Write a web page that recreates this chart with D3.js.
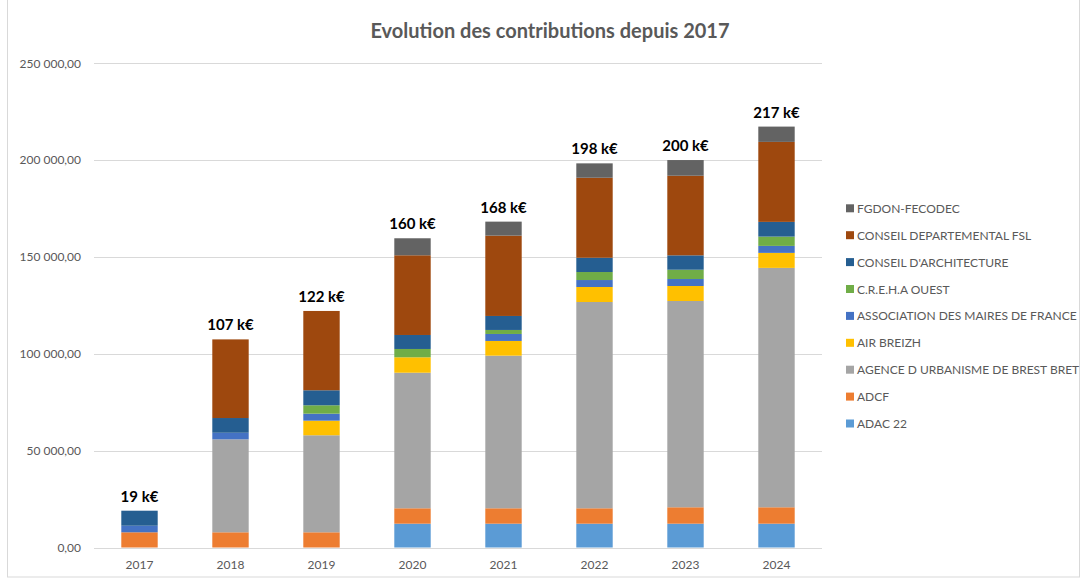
<!DOCTYPE html>
<html><head><meta charset="utf-8">
<script src="https://cdn.jsdelivr.net/npm/d3@7"></script>
<style>html,body{margin:0;padding:0;background:#fff;}svg{display:block;font-family:Lato,"Open Sans",sans-serif;}</style>
</head><body>
<svg id="c" width="1084" height="581"></svg>
<script>
const years = ["2017","2018","2019","2020","2021","2022","2023","2024"];
const seriesNames = ["ADAC 22","ADCF","AGENCE D URBANISME DE BREST BRET","AIR BREIZH","ASSOCIATION DES MAIRES DE FRANCE","C.R.E.H.A OUEST","CONSEIL D'ARCHITECTURE","CONSEIL DEPARTEMENTAL FSL","FGDON-FECODEC"];
const seriesColors = ["#5B9BD5","#ED7D31","#A5A5A5","#FFC000","#4472C4","#70AD47","#255E91","#9E480E","#636363"];
const adac22      = [0,0,0,12300,12300,12300,12300,12300];
const adcf        = [7850,7850,7850,7950,7950,7950,8470,8470];
const agence      = [0,48000,50100,70000,78800,106500,106500,123600];
const airBreizh   = [0,0,7540,7950,7600,7750,7750,7750];
const association = [3400,3400,3600,0,3600,3600,3600,3600];
const creha       = [0,0,4340,4300,2070,4130,4800,4800];
const conseilArch = [7750,7600,7750,7230,7230,7380,7430,7600];
const conseilDep  = [0,40600,40950,41150,41470,41300,41100,41300];
const fgdon       = [0,0,0,8780,7230,7430,8100,7900];
const yTicks = [0,50000,100000,150000,200000,250000];
const title = "Evolution des contributions depuis 2017";

const seriesValues = [adac22,adcf,agence,airBreizh,association,creha,conseilArch,conseilDep,fgdon];
const rows = years.map((y,i)=>{const r={year:y}; seriesNames.forEach((n,k)=>r[n]=seriesValues[k][i]); return r;});
const stack = d3.stack().keys(seriesNames)(rows);

const svg = d3.select("#c");
svg.append("rect").attr("x",7.5).attr("y",-1).attr("width",1072).attr("height",578).attr("fill","#fff").attr("stroke","#d9d9d9");

const x = d3.scaleBand().domain(years).range([94,822]).paddingInner(0.6).paddingOuter(0.3);
const y = d3.scaleLinear().domain([0,250000]).range([547.5,63.3]);
const loc = d3.formatLocale({decimal:",",thousands:"\u00a0",grouping:[3],currency:["","€"]});
const fmt = loc.format(",.2f");

// gridlines
svg.append("g").selectAll("line").data(yTicks).join("line")
  .attr("x1",94).attr("x2",822)
  .attr("y1",d=>Math.round(y(d))+0.5).attr("y2",d=>Math.round(y(d))+0.5)
  .attr("stroke","#d9d9d9").attr("stroke-width",1);

// y axis labels via axis
const yAxis = svg.append("g").attr("transform","translate(94,0)")
  .call(d3.axisLeft(y).tickValues(yTicks).tickFormat(fmt).tickSize(0).tickPadding(13));
yAxis.select(".domain").remove();
yAxis.selectAll("text").attr("fill","#595959").style("font-size","12px").style("font-family","Lato,sans-serif");

const xAxis = svg.append("g").attr("transform","translate(0,547.5)")
  .call(d3.axisBottom(x).tickSize(0).tickPadding(13));
xAxis.select(".domain").remove();
xAxis.selectAll("text").attr("fill","#595959").style("font-size","12px").style("font-family","Lato,sans-serif");

// bars
svg.append("g").selectAll("g").data(stack).join("g")
  .attr("fill",(d,i)=>seriesColors[i])
  .selectAll("rect").data(d=>d).join("rect")
  .attr("x",d=>x(d.data.year)).attr("width",x.bandwidth())
  .attr("y",d=>y(d[1])).attr("height",d=>Math.max(0,y(d[0])-y(d[1])));

// total labels
const totals = rows.map(r=>d3.sum(seriesNames,n=>r[n]));
svg.append("g").selectAll("text").data(years).join("text")
  .attr("x",d=>x(d)+x.bandwidth()/2).attr("y",(d,i)=>y(totals[i])-9)
  .attr("text-anchor","middle").attr("fill","#000").style("font-weight","bold").style("font-size","15px")
  .text((d,i)=>Math.round(totals[i]/1000)+" k€");

// title
svg.append("text").attr("x",550).attr("y",38).attr("text-anchor","middle")
  .attr("fill","#595959").style("font-weight","bold").style("font-size","20px").text(title);

// legend
const legendOrder = seriesNames.map((n,i)=>i).reverse();
const lg = svg.append("g").selectAll("g").data(legendOrder).join("g")
  .attr("transform",(d,j)=>`translate(846,${208.3+j*26.9})`);
lg.append("rect").attr("x",0).attr("y",-4).attr("width",8).attr("height",8).attr("fill",d=>seriesColors[d]);
lg.append("text").attr("x",11).attr("y",4.5).attr("fill","#595959").style("font-size","12px").text(d=>seriesNames[d]);
</script>
</body></html>
